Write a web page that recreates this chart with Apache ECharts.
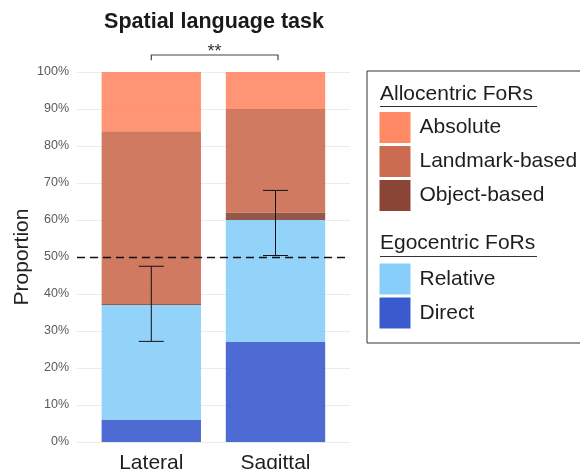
<!DOCTYPE html>
<html>
<head>
<meta charset="utf-8">
<script src="https://cdn.jsdelivr.net/npm/echarts@6/dist/echarts.min.js"></script>
<style>
html,body{margin:0;padding:0;background:#fff;}
#chart{width:580px;height:469px;}
</style>
</head>
<body>
<div id="chart"></div>
<script>
// ---- data ----
const categories = ['Lateral', 'Sagittal'];
const direct = [0.06, 0.27];
const relative = [0.31, 0.33];
const objectBased = [0.003, 0.02];
const landmark = [0.467, 0.28];
const absolute = [0.16, 0.10];
const errLow = [0.272, 0.504];
const errHigh = [0.475, 0.680];
const sigLabel = '**';
const sigY = 1.046;
const sigTickY = 1.032;
const allocentricNames = ['Absolute', 'Landmark-based', 'Object-based'];
const egocentricNames = ['Relative', 'Direct'];

const colors = {
  'Absolute': '#FF8A65',
  'Landmark-based': '#CB6C51',
  'Object-based': '#8A4536',
  'Relative': '#87CEFA',
  'Direct': '#3A5BCD'
};
const FONT = 'Liberation Sans, Arial, Helvetica, sans-serif';

const chart = echarts.init(document.getElementById('chart'), null, {renderer: 'canvas'});

function barSeries(name, data) {
  return {
    name: name, type: 'bar', stack: 'total', xAxisIndex: 1, yAxisIndex: 1,
    barWidth: '80%', data: data,
    itemStyle: {color: colors[name], opacity: 0.9},
    emphasis: {disabled: true}, z: 2
  };
}

const legendCommon = {
  orient: 'vertical', left: 379.5, padding: 0, itemWidth: 31, itemHeight: 31, itemGap: 3,
  icon: 'rect', selectedMode: false, itemStyle: {opacity: 1},
  textStyle: {fontSize: 21, color: '#1e1e1e', fontFamily: FONT, padding: [0, 0, 0, 4]}
};

const option = {
  animation: false,
  textStyle: {fontFamily: FONT},
  grid: [
    {left: 77, right: 230, top: 72, bottom: 27, containLabel: false, outerBoundsMode: 'none'},
    {left: 89.2, right: 242.4, top: 72, bottom: 27, containLabel: false, outerBoundsMode: 'none'}
  ],
  xAxis: [
    {type: 'category', gridIndex: 0, data: categories, show: false},
    {type: 'category', gridIndex: 1, data: categories,
      axisLine: {show: false}, axisTick: {show: false}, splitLine: {show: false},
      axisLabel: {fontSize: 21, color: '#1e1e1e', margin: 11, fontFamily: FONT}}
  ],
  yAxis: [
    {type: 'value', gridIndex: 0, min: 0, max: 1, interval: 0.1,
      name: 'Proportion', nameLocation: 'middle', nameGap: 39, nameRotate: 90,
      nameTextStyle: {fontSize: 21, color: '#222', fontFamily: FONT},
      axisLine: {show: false}, axisTick: {show: false},
      axisLabel: {fontSize: 12.5, color: '#5a5a5a', margin: 8, fontFamily: FONT,
        formatter: v => Math.round(v * 100) + '%'},
      splitLine: {lineStyle: {color: '#ebebeb', width: 1}}},
    {type: 'value', gridIndex: 1, min: 0, max: 1, interval: 0.1, show: false,
      splitLine: {show: false}}
  ],
  legend: [
    Object.assign({}, legendCommon, {top: 112, data: allocentricNames}),
    Object.assign({}, legendCommon, {top: 263.5, data: egocentricNames})
  ],
  graphic: [
    {type: 'text', x: 214, y: 22.5, silent: true,
      style: {text: 'Spatial language task', font: 'bold 21.5px ' + FONT, fill: '#1a1a1a',
        textAlign: 'center', textVerticalAlign: 'middle'}},
    {type: 'rect', shape: {x: 367, y: 71, width: 230, height: 272}, silent: true,
      style: {fill: 'none', stroke: '#333', lineWidth: 1}},
    {type: 'text', x: 380, y: 94, silent: true,
      style: {text: 'Allocentric FoRs', font: '21px ' + FONT, fill: '#1e1e1e', textVerticalAlign: 'middle'}},
    {type: 'line', shape: {x1: 380, y1: 106.5, x2: 537, y2: 106.5}, silent: true,
      style: {stroke: '#333', lineWidth: 1}},
    {type: 'text', x: 380, y: 243, silent: true,
      style: {text: 'Egocentric FoRs', font: '21px ' + FONT, fill: '#1e1e1e', textVerticalAlign: 'middle'}},
    {type: 'line', shape: {x1: 380, y1: 256.5, x2: 537, y2: 256.5}, silent: true,
      style: {stroke: '#333', lineWidth: 1}}
  ],
  series: [
    barSeries('Direct', direct),
    barSeries('Relative', relative),
    barSeries('Object-based', objectBased),
    barSeries('Landmark-based', landmark),
    barSeries('Absolute', absolute),
    {
      name: 'chance', type: 'line', xAxisIndex: 0, yAxisIndex: 0, data: ['-', '-'],
      showSymbol: false, silent: true, z: 10,
      markLine: {silent: true, symbol: 'none', label: {show: false},
        lineStyle: {color: '#111', type: [8, 5], width: 1.4},
        data: [{yAxis: 0.5}]}
    },
    {
      name: 'errorbars', type: 'custom', xAxisIndex: 1, yAxisIndex: 1, z: 11, silent: true,
      data: categories.map((c, i) => [i, errLow[i], errHigh[i]]),
      renderItem: function (params, api) {
        const lo = api.coord([api.value(0), api.value(1)]);
        const hi = api.coord([api.value(0), api.value(2)]);
        const hw = 12.5;
        const st = {stroke: '#111', lineWidth: 1, fill: null};
        return {type: 'group', children: [
          {type: 'line', shape: {x1: lo[0], y1: lo[1], x2: hi[0], y2: hi[1]}, style: st},
          {type: 'line', shape: {x1: lo[0] - hw, y1: lo[1], x2: lo[0] + hw, y2: lo[1]}, style: st},
          {type: 'line', shape: {x1: hi[0] - hw, y1: hi[1], x2: hi[0] + hw, y2: hi[1]}, style: st}
        ]};
      }
    },
    {
      name: 'significance', type: 'custom', xAxisIndex: 1, yAxisIndex: 1, z: 11, silent: true,
      clip: false,
      data: [[0, 1, sigY, sigTickY]],
      renderItem: function (params, api) {
        const a = api.coord([api.value(0), api.value(2)]);
        const b = api.coord([api.value(1), api.value(2)]);
        const aT = api.coord([api.value(0), api.value(3)]);
        const bT = api.coord([api.value(1), api.value(3)]);
        const st = {stroke: '#444', lineWidth: 1.2, fill: null};
        return {type: 'group', children: [
          {type: 'polyline', shape: {points: [[aT[0], aT[1]], [a[0], a[1]], [b[0] + 2.5, b[1]], [bT[0] + 2.5, bT[1]]]}, style: st},
          {type: 'text', x: (a[0] + b[0]) / 2 + 1, y: a[1] - 3,
            style: {text: sigLabel, font: '18px ' + FONT, fill: '#333', textAlign: 'center', textVerticalAlign: 'middle'}}
        ]};
      }
    }
  ]
};
chart.setOption(option);
</script>
</body>
</html>
